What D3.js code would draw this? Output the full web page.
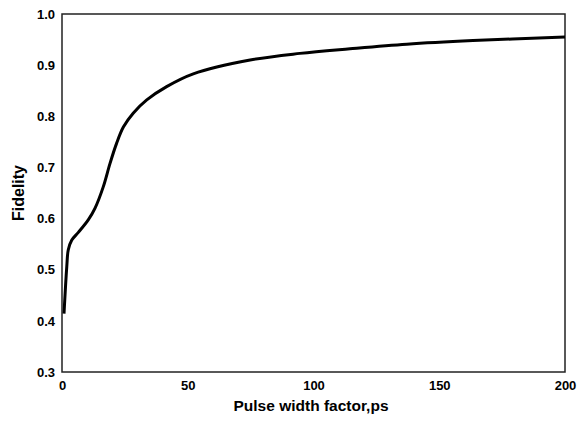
<!DOCTYPE html>
<html><head><meta charset="utf-8">
<script src="https://cdn.jsdelivr.net/npm/d3@7"></script>
<style>body{margin:0;background:#fff}svg{display:block}text{font-family:"Liberation Sans",Arial,sans-serif;font-weight:bold;fill:#000}</style>
</head><body><svg id="c" width="587" height="421"></svg>
<script>
const pulseWidth = [0.8, 1.9, 2.5, 3.9, 6.5, 10.5, 13.1, 16.4, 19.1, 21.7, 24.4, 28.3, 33.7, 41.6, 52.2, 74.8, 94.6, 114.5, 137.1, 163.4, 200];
const fidelity   = [0.414, 0.506, 0.539, 0.558, 0.573, 0.598, 0.620, 0.662, 0.708, 0.747, 0.779, 0.806, 0.832, 0.858, 0.883, 0.910, 0.923, 0.932, 0.941, 0.948, 0.955];
const xTicks = [0, 50, 100, 150, 200];
const yTicks = [0.3, 0.4, 0.5, 0.6, 0.7, 0.8, 0.9, 1.0];

const svg = d3.select("#c");
const m = {l: 62, r: 565, t: 14, b: 372};
const x = d3.scaleLinear().domain([0, 200]).range([m.l, m.r]);
const y = d3.scaleLinear().domain([0.3, 1.0]).range([m.b, m.t]);

svg.append("rect").attr("x", m.l).attr("y", m.t).attr("width", m.r - m.l).attr("height", m.b - m.t)
  .attr("fill", "none").attr("stroke", "#222").attr("stroke-width", 1.5);

const yAxis = svg.append("g").attr("transform", `translate(${m.l},0)`)
  .call(d3.axisLeft(y).tickValues(yTicks).tickFormat(d3.format(".1f")).tickSize(0).tickPadding(7));
yAxis.select(".domain").remove();
yAxis.selectAll("text").style("font-size", "13px").style("font-family", "Liberation Sans, Arial, sans-serif").style("font-weight", "bold");

const xAxis = svg.append("g").attr("transform", `translate(0,${m.b})`)
  .call(d3.axisBottom(x).tickValues(xTicks).tickFormat(d3.format("d")).tickSize(0).tickPadding(9));
xAxis.select(".domain").remove();
xAxis.selectAll("text").style("font-size", "13px").style("font-family", "Liberation Sans, Arial, sans-serif").style("font-weight", "bold");

const data = pulseWidth.map((v, i) => [v, fidelity[i]]);
svg.append("path").datum(data)
  .attr("d", d3.line().x(d => x(d[0])).y(d => y(d[1])).curve(d3.curveCatmullRom.alpha(0.5)))
  .attr("fill", "none").attr("stroke", "#000").attr("stroke-width", 3);

svg.append("text").attr("x", 311).attr("y", 411).attr("text-anchor", "middle")
  .style("font-size", "15.5px").text("Pulse width factor,ps");
svg.append("text").attr("transform", `translate(24,${(m.t + m.b) / 2}) rotate(-90)`).attr("text-anchor", "middle")
  .style("font-size", "16px").text("Fidelity");
</script></body></html>
